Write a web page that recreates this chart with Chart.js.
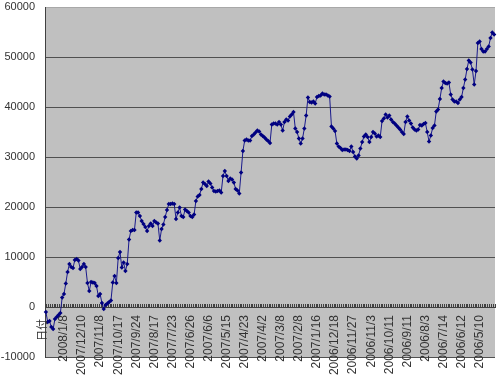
<!DOCTYPE html>
<html>
<head>
<meta charset="utf-8">
<script src="https://cdn.jsdelivr.net/npm/chart.js@4"></script>
<style>
html,body{margin:0;padding:0;background:#fff;}
#wrap{width:500px;height:379px;position:relative;}
</style>
</head>
<body>
<div id="wrap"><canvas id="c" width="500" height="379"></canvas></div>
<script>
const tickLabels = ['2008/1/8','2007/12/10','2007/11/8','2007/10/17','2007/9/24','2007/8/17','2007/7/23','2007/6/26','2007/6/6','2007/5/15','2007/4/23','2007/4/2','2007/3/8','2007/2/8','2007/1/16','2006/12/18','2006/11/27','2006/11/3','2006/10/11','2006/9/11','2006/8/3','2006/7/14','2006/6/12','2006/5/10'];

const values = [
-1000,-3000,-2800,-4000,-4400,-2400,-2000,-1600,-1200,1900,
2600,4700,7000,8600,8000,7800,9400,9600,9300,7600,
8000,8600,8000,4800,3200,5000,4900,4800,4200,2200,
2600,800,-400,400,700,1000,1300,4900,6200,4800,
9800,11000,7900,8900,7200,8600,13500,15200,15400,15400,
18900,18900,18200,17200,16600,16000,15200,16200,16700,16200,
17200,16900,16700,13300,15600,16500,18000,19400,20600,20600,
20700,20600,17600,18900,19900,18200,18000,19500,19200,18900,
18200,18000,18500,21200,22100,22400,23600,24900,24600,24200,
25100,24700,23900,23200,23100,23200,23300,22900,26200,27200,
26200,25200,25700,25500,24900,23600,23300,22700,26900,31200,
33300,33500,33300,33300,34200,34500,34900,35300,35100,34500,
34200,33900,33500,33200,32800,36500,36700,36700,36500,37000,
36500,35300,37000,37500,37300,38100,38500,39000,35700,35000,
33700,32700,33700,35700,38300,41900,41000,40900,41100,40700,
42000,42200,42300,42700,42500,42500,42300,42100,36100,35700,
35200,32700,32100,31800,31400,31500,31500,31400,31200,32100,
31000,30100,29700,30300,31700,33000,34100,34500,34000,33000,
34000,35000,34700,34100,34300,34000,37200,37700,38500,37900,
38300,37500,37000,36700,36300,35900,35500,35000,34600,37000,
38100,37300,36700,35900,35500,35300,35500,36400,36300,36600,
36800,35000,33100,34300,35800,36300,39100,39500,41600,43800,
45100,44800,44700,44900,42500,41500,41100,41100,40800,41500,
42000,43800,45500,47600,49300,48900,47500,44500,47200,52800,
53100,51600,51100,51100,51600,52100,53800,54900,54500
];

const yTicks = [-10000,0,10000,20000,30000,40000,50000,60000];
const axisTitle = '日付';

const categories = values.map((v, i) => (i > 0 && i % 10 === 0 && tickLabels[i / 10 - 1]) ? tickLabels[i / 10 - 1] : '');

const bgPlugin = {
  id: 'plotBg',
  beforeDraw(chart) {
    const {ctx, chartArea: a} = chart;
    ctx.save();
    ctx.fillStyle = '#c0c0c0';
    ctx.fillRect(a.left, a.top, a.right - a.left, a.bottom - a.top);
    ctx.restore();
  },
  afterDraw(chart) {
    const {ctx, chartArea: a} = chart;
    const y0 = chart.scales.y.getPixelForValue(0);
    ctx.save();
    ctx.translate(a.left - 3, y0 + 23);
    ctx.rotate(-Math.PI / 2);
    ctx.font = '11px "Noto Sans CJK JP"';
    ctx.fillStyle = '#333';
    ctx.textAlign = 'center';
    ctx.textBaseline = 'middle';
    ctx.fillText(axisTitle, 0, 0);
    ctx.restore();
  }
};

new Chart(document.getElementById('c'), {
  type: 'line',
  data: {
    labels: categories,
    datasets: [{
      data: values,
      borderColor: '#1a1a8c',
      borderWidth: 1,
      pointStyle: 'rectRot',
      pointRadius: 2.2,
      pointBorderWidth: 0,
      pointBackgroundColor: '#000080',
      pointBorderColor: '#000080',
      tension: 0,
      fill: false
    }]
  },
  options: {
    responsive: false,
    animation: false,
    devicePixelRatio: 1,
    layout: {padding: {left: 0, right: 5, top: 7, bottom: 22}},
    plugins: {legend: {display: false}, tooltip: {enabled: false}},
    scales: {
      x: {
        type: 'category',
        position: {y: 0},
        offset: true,
        afterFit(scale) { scale.height = 0; scale.paddingLeft = 0; scale.paddingRight = 0; },
        grid: {drawOnChartArea: false, drawTicks: true, tickLength: -4, color: '#404040', offset: true},
        border: {display: true, color: '#404040', width: 1},
        ticks: {
          autoSkip: false, maxRotation: 90, minRotation: 90, padding: 12,
          color: '#333', font: {family: '"Liberation Sans", Arial', size: 12}
        }
      },
      y: {
        min: -10000, max: 60000,
        afterFit(scale) { scale.width = 45; scale.paddingTop = 0; scale.paddingBottom = 0; },
        afterBuildTicks(scale) { scale.ticks = yTicks.map(v => ({value: v})); },
        grid: {
          drawTicks: false,
          color: (c) => (c.tick && c.tick.value === 60000) ? '#a8a8a8' : '#505050',
          lineWidth: 1
        },
        border: {display: true, color: '#404040', width: 1},
        ticks: {
          padding: 10, color: '#333',
          font: {family: '"Liberation Sans", Arial', size: 11},
          callback: (v) => String(v)
        }
      }
    }
  },
  plugins: [bgPlugin]
});
</script>
</body>
</html>
